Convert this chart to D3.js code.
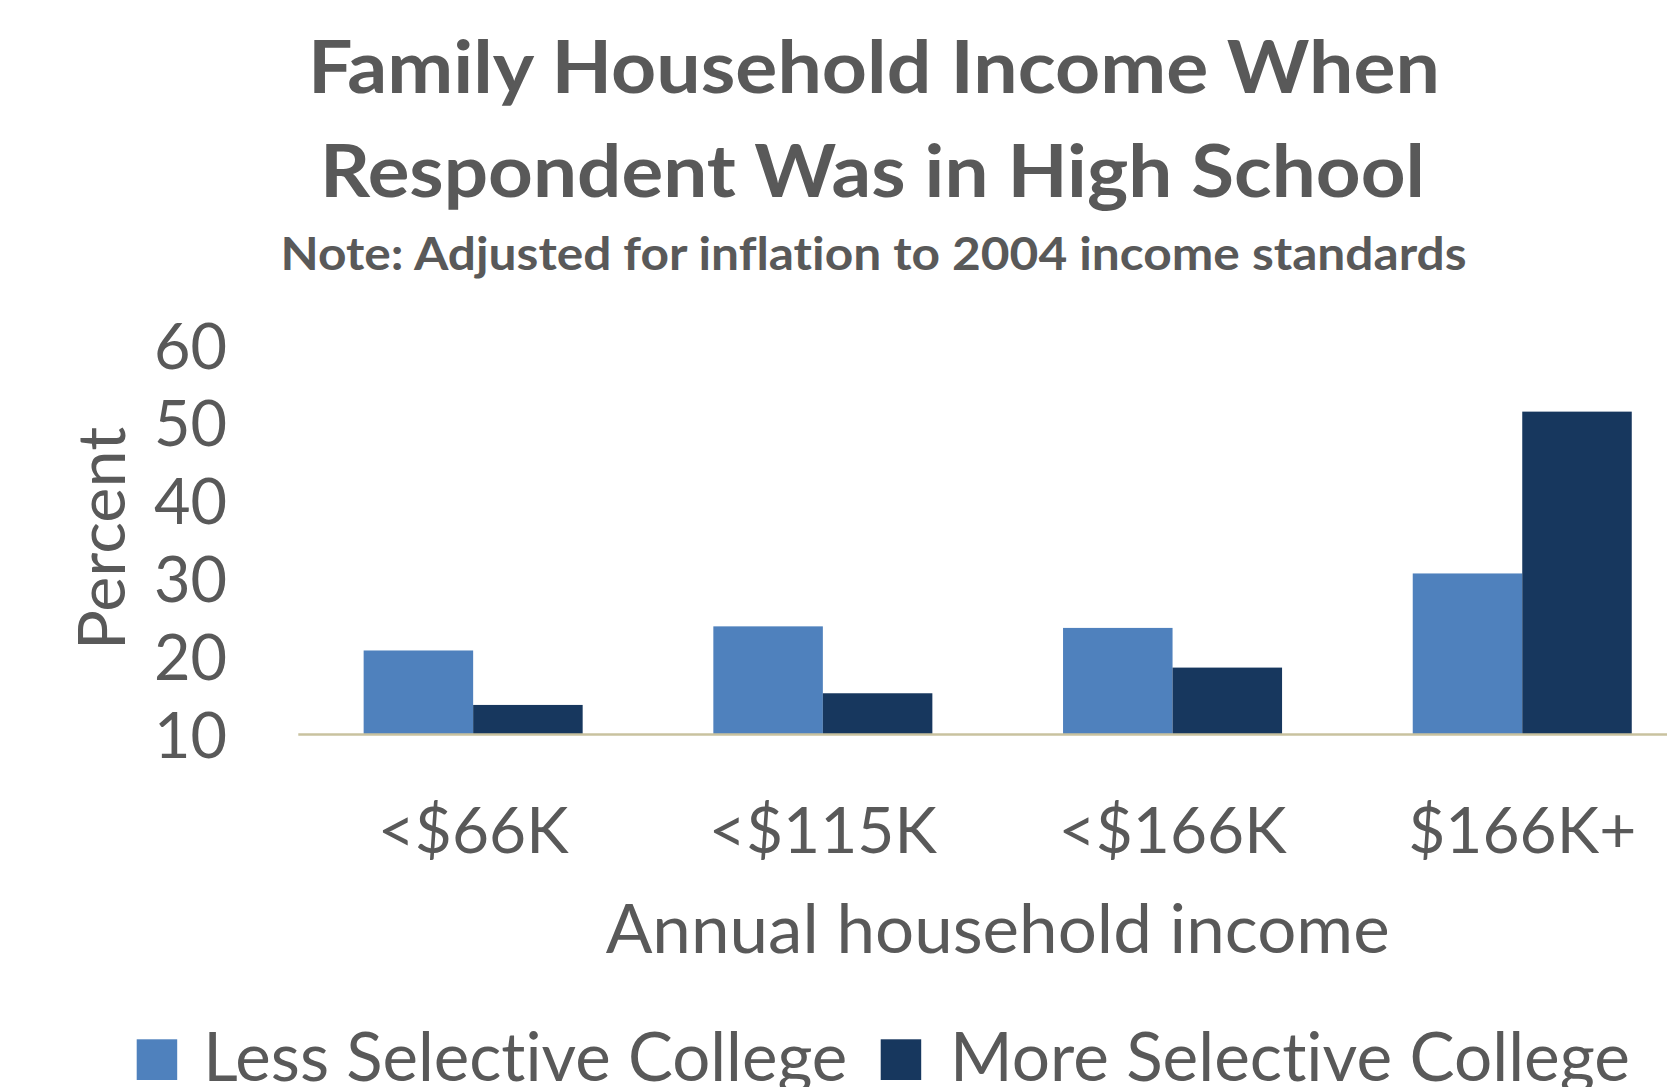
<!DOCTYPE html>
<html>
<head>
<meta charset="utf-8">
<script src="https://cdn.jsdelivr.net/npm/d3@7/dist/d3.min.js"></script>
<style>
  html, body { margin: 0; padding: 0; background: #ffffff; }
  svg { display: block; }
  text { font-family: Lato, "Open Sans", sans-serif; fill: #595959; font-variant-ligatures: none; font-feature-settings: "liga" 0, "clig" 0; }
</style>
</head>
<body>
<svg id="chart" width="1667" height="1087"></svg>
<script>
const categories = ["<$66K", "<$115K", "<$166K", "$166K+"];
const seriesNames = ["Less Selective College", "More Selective College"];
const lessSelective = [20.8, 23.9, 23.7, 30.7];
const moreSelective = [13.8, 15.3, 18.6, 51.5];
const yTicks = [10, 20, 30, 40, 50, 60];
const titleLines = ["Family Household Income When", "Respondent Was in High School"];
const subtitle = "Note: Adjusted for inflation to 2004 income standards";
const xTitle = "Annual household income";
const yTitle = "Percent";
const colors = ["#4f81bd", "#17375e"];

const svg = d3.select("#chart");
const W = 1667, H = 1087;
svg.append("rect").attr("width", W).attr("height", H).attr("fill", "#ffffff");

const plotLeft = 298.3, plotRight = 1697.1;
const y = d3.scaleLinear().domain([10, 60]).range([734.5, 345.5]);
const x = d3.scaleBand().domain(categories).range([plotLeft, plotRight])
  .paddingInner(0.3737).paddingOuter(0.3737 / 2);
const xs = d3.scaleBand().domain(seriesNames).range([0, x.bandwidth()]).padding(0);

const rows = categories.map((c, i) => ({ cat: c, vals: [lessSelective[i], moreSelective[i]] }));

// Bars
const g = svg.append("g");
g.selectAll("g.grp").data(rows).join("g").attr("class", "grp")
  .attr("transform", d => `translate(${x(d.cat)},0)`)
  .selectAll("rect").data(d => d.vals.map((v, k) => ({ v, k })))
  .join("rect")
  .attr("x", d => xs(seriesNames[d.k]))
  .attr("width", xs.bandwidth())
  .attr("y", d => y(d.v))
  .attr("height", d => y(10) - y(d.v))
  .attr("fill", d => colors[d.k]);

// Baseline axis line
svg.append("line")
  .attr("x1", plotLeft).attr("x2", W)
  .attr("y1", y(10)).attr("y2", y(10))
  .attr("stroke", "#c9c29f").attr("stroke-width", 2.5);

// Y axis
const yAxis = svg.append("g").attr("transform", "translate(227,0)")
  .call(d3.axisLeft(y).tickValues(yTicks).tickSize(0).tickPadding(0).tickFormat(d3.format("d")));
yAxis.select(".domain").remove();
yAxis.selectAll("text")
  .attr("dy", "0.36em")
  .style("font-family", "Lato, 'Open Sans', sans-serif")
  .style("font-size", "63px")
  .style("fill", "#595959");

// X axis
const xAxis = svg.append("g").attr("transform", `translate(0,${y(10)})`)
  .call(d3.axisBottom(x).tickSize(0).tickPadding(0));
xAxis.select(".domain").remove();
xAxis.selectAll("text")
  .attr("y", 118.5).attr("dy", null)
  .style("font-family", "Lato, 'Open Sans', sans-serif")
  .style("font-size", "64px")
  .style("fill", "#595959");

// Titles
const titleSpecs = [
  { t: titleLines[0], x: 874, y: 92.7, len: 1132 },
  { t: titleLines[1], x: 872.5, y: 196.7, len: 1105 }
];
titleSpecs.forEach(s => {
  svg.append("text").attr("x", s.x).attr("y", s.y)
    .attr("text-anchor", "middle")
    .attr("textLength", s.len).attr("lengthAdjust", "spacingAndGlyphs")
    .style("font-size", "72.6px").style("font-weight", "700")
    .text(s.t);
});
svg.append("text").attr("x", 873.5).attr("y", 270)
  .attr("text-anchor", "middle")
  .attr("textLength", 1186).attr("lengthAdjust", "spacingAndGlyphs")
  .style("font-size", "46px").style("font-weight", "700")
  .text(subtitle);

// Axis titles
svg.append("text").attr("x", (plotLeft + plotRight) / 2).attr("y", 952.7)
  .attr("text-anchor", "middle")
  .attr("textLength", 784).attr("lengthAdjust", "spacingAndGlyphs")
  .style("font-size", "67px")
  .text(xTitle);

svg.append("text")
  .attr("transform", "translate(125,538.5) rotate(-90)")
  .attr("text-anchor", "middle")
  .attr("textLength", 223).attr("lengthAdjust", "spacingAndGlyphs")
  .style("font-size", "65.6px")
  .text(yTitle);

// Legend
const legendSpecs = [
  { sx: 136.7, tx: 203.3, len: 644 },
  { sx: 880.7, tx: 950, len: 680 }
];
seriesNames.forEach((name, i) => {
  const L = legendSpecs[i];
  svg.append("rect").attr("x", L.sx).attr("y", 1039.3)
    .attr("width", 40.5).attr("height", 40.7).attr("fill", colors[i]);
  svg.append("text").attr("x", L.tx).attr("y", 1080.7)
    .attr("textLength", L.len).attr("lengthAdjust", "spacingAndGlyphs")
    .style("font-size", "67px")
    .text(name);
});
</script>
</body>
</html>
